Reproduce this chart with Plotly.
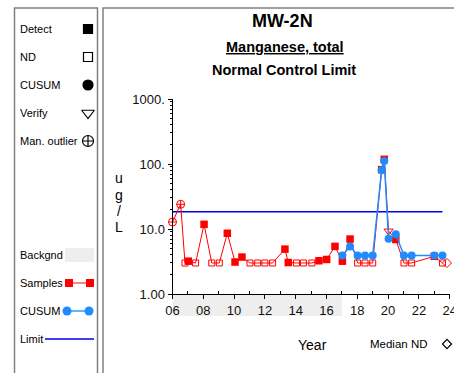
import plotly.graph_objects as go

W, H = 454, 373
FONT = "Liberation Sans, Arial, sans-serif"

# ---------------- data ----------------
sample_years = [2006.00, 2006.53, 2006.81, 2007.03, 2007.50, 2008.05, 2008.55, 2009.04,
                2009.56, 2010.06, 2010.51, 2011.03, 2011.53, 2012.00, 2012.50, 2013.30,
                2013.52, 2014.05, 2014.50, 2015.05, 2015.51, 2016.01, 2016.55, 2017.03,
                2017.53, 2018.02, 2018.50, 2019.00, 2019.58, 2019.75, 2020.03, 2020.50,
                2021.03, 2021.53, 2023.00, 2023.53]
sample_values = [12.8, 24.0, 3.0, 3.2, 3.0, 11.8, 3.0, 3.0,
                 8.6, 3.1, 3.7, 3.0, 3.0, 3.0, 3.0, 4.9,
                 3.05, 3.0, 3.0, 3.0, 3.25, 3.4, 5.4, 3.2,
                 7.0, 3.0, 3.0, 3.0, 82.0, 118.0, 9.3, 6.9,
                 3.0, 3.0, 3.8, 3.0]
# O = manual outlier, D = detect, N = non-detect, V = verify
sample_flags = ["O", "O", "N", "D", "N", "D", "N", "N",
                "D", "D", "D", "N", "N", "N", "N", "D",
                "D", "N", "N", "N", "D", "D", "D", "D",
                "D", "N", "N", "N", "D", "D", "V", "D",
                "N", "N", "D", "N"]

cusum_years = [2017.03, 2017.53, 2018.02, 2018.50, 2019.00, 2019.58, 2019.75, 2020.03,
               2020.50, 2021.03, 2021.53, 2023.00, 2023.53]
cusum_values = [3.9, 5.4, 3.9, 3.9, 3.9, 80.0, 111.0, 7.1,
                8.3, 3.9, 3.9, 3.9, 3.9]

limit_value = 18.5
limit_span = [2006.0, 2023.53]
median_nd_year = 2024.1
median_nd_value = 3.0
background_span = [2006.0, 2017.0]

x_range = [2006, 2024]
x_tickvals = [2006, 2008, 2010, 2012, 2014, 2016, 2018, 2020, 2022, 2024]
x_ticktext = ["06", "08", "10", "12", "14", "16", "18", "20", "22", "24"]
x_minor = [2007, 2009, 2011, 2013, 2015, 2017, 2019, 2021, 2023]
y_tickvals = [1, 10, 100, 1000]
y_ticktext = ["1.00", "10.0", "100.", "1000."]
y_minor = [m * d for d in (1, 10, 100) for m in range(2, 10)]

legend_symbols = ["Detect", "ND", "CUSUM", "Verify", "Man. outlier"]
legend_lines = ["Backgnd", "Samples", "CUSUM", "Limit"]

RED = "#ff0000"
BLUE = "#1e8cff"
LIMIT = "#0000ee"

XD0, XD1 = 172.5 / W, 449.7 / W
# overlay axis with the same scale, extended to the right page edge
x3_right = x_range[0] + (x_range[1] - x_range[0]) * (1 - XD0) / (XD1 - XD0)


def sel(flag):
    xs = [x for x, f in zip(sample_years, sample_flags) if f == flag]
    ys = [y for y, f in zip(sample_values, sample_flags) if f == flag]
    return xs, ys


fig = go.Figure()

# limit line
fig.add_trace(go.Scatter(x=limit_span, y=[limit_value, limit_value], mode="lines",
                         line=dict(color=LIMIT, width=1.5), hoverinfo="skip"))
# samples line
fig.add_trace(go.Scatter(x=sample_years, y=sample_values, mode="lines", cliponaxis=False,
                         line=dict(color=RED, width=1)))
xs, ys = sel("N")
fig.add_trace(go.Scatter(x=xs, y=ys, mode="markers", cliponaxis=False,
                         marker=dict(symbol="square-open", size=6, color=RED, line=dict(width=1))))
xs, ys = sel("D")
fig.add_trace(go.Scatter(x=xs, y=ys, mode="markers", cliponaxis=False,
                         marker=dict(symbol="square", size=7.5, color=RED, line=dict(width=0))))
xs, ys = sel("V")
fig.add_trace(go.Scatter(x=xs, y=ys, mode="markers", cliponaxis=False,
                         marker=dict(symbol="triangle-down-open", size=8, color=RED, line=dict(width=1))))
xs, ys = sel("O")
fig.add_trace(go.Scatter(x=xs, y=ys, mode="markers", cliponaxis=False,
                         marker=dict(symbol="circle-cross-open", size=8, color=RED, line=dict(width=1))))
# cusum
fig.add_trace(go.Scatter(x=cusum_years, y=cusum_values, mode="lines+markers", cliponaxis=False,
                         line=dict(color=BLUE, width=1.5),
                         marker=dict(symbol="circle", size=8, color=BLUE)))
# median ND (on extended overlay axis with identical scale)
fig.add_trace(go.Scatter(x=[median_nd_year], y=[median_nd_value], xaxis="x3", yaxis="y",
                         mode="markers", cliponaxis=False,
                         marker=dict(symbol="diamond-open", size=7, color=RED, line=dict(width=1))))

# ---------- legend panel on a hidden pixel axis ----------
lx = 88
sym_y = [29, 57, 85, 113, 141]
sym_specs = [("square", 9), ("square-open", 9), ("circle", 10),
             ("triangle-down-open", 11), ("circle-cross-open", 11)]
for (sym, sz), yy in zip(sym_specs, sym_y):
    fig.add_trace(go.Scatter(x=[lx], y=[yy], xaxis="x2", yaxis="y2", mode="markers",
                             marker=dict(symbol=sym, size=sz, color="black", line=dict(width=1.2, color="black"))))
fig.add_trace(go.Scatter(x=[69, 90], y=[283, 283], xaxis="x2", yaxis="y2", mode="lines+markers",
                         line=dict(color=RED, width=1), marker=dict(symbol="square", size=8, color=RED)))
fig.add_trace(go.Scatter(x=[67, 89], y=[311, 311], xaxis="x2", yaxis="y2", mode="lines+markers",
                         line=dict(color="#66b3ff", width=2), marker=dict(symbol="circle", size=9, color=BLUE)))
fig.add_trace(go.Scatter(x=[45, 94], y=[339, 339], xaxis="x2", yaxis="y2", mode="lines",
                         line=dict(color=LIMIT, width=1.3)))
fig.add_trace(go.Scatter(x=[447], y=[344], xaxis="x2", yaxis="y2", mode="markers",
                         marker=dict(symbol="diamond-open", size=7, color="black", line=dict(width=1.2))))

annotations = []
def txt(x, y, s, size, anchor="left"):
    annotations.append(dict(x=x / W, y=1 - y / H, xref="paper", yref="paper", text=s,
                            showarrow=False, xanchor=anchor, yanchor="middle",
                            font=dict(family=FONT, size=size, color="black")))

for s, yy in zip(legend_symbols, sym_y):
    txt(18, yy, s, 11)
for s, yy in zip(legend_lines, [255, 283, 311, 339]):
    txt(18, yy, s, 11)

txt(282, 21, "<b>MW-2N</b>", 18, anchor="center")
txt(285, 47, "<b><u>Manganese, total</u></b>", 14.5, anchor="center")
txt(283.5, 70, "<b>Normal Control Limit</b>", 14.5, anchor="center")
for ch, yy in zip(["u", "g", "/", "L"], [178, 195, 211, 227]):
    txt(119, yy, ch, 14, anchor="center")
txt(312, 345, "Year", 14, anchor="center")
txt(368, 344, "Median ND", 11.5)

shapes = [
    dict(type="rect", xref="paper", yref="paper", x0=14.5 / W, x1=97.5 / W, y0=-0.1, y1=1 - 8 / H,
         line=dict(color="#808080", width=1.5), layer="below"),
    dict(type="rect", xref="paper", yref="paper", x0=103 / W, x1=1.2, y0=-0.1, y1=1 - 8 / H,
         line=dict(color="#808080", width=1.5), layer="below"),
    dict(type="rect", xref="x", yref="paper", x0=background_span[0], x1=background_span[1],
         y0=1 - 316 / H, y1=1 - 295 / H, fillcolor="#eeeeee", line=dict(width=0), layer="below"),
    dict(type="rect", xref="paper", yref="paper", x0=65 / W, x1=94 / W, y0=1 - 262 / H, y1=1 - 248 / H,
         fillcolor="#eeeeee", line=dict(width=0), layer="below"),
]

fig.update_layout(
    width=W, height=H, margin=dict(l=0, r=0, t=0, b=0, pad=0, autoexpand=False),
    paper_bgcolor="white", plot_bgcolor="rgba(0,0,0,0)", showlegend=False,
    font=dict(family=FONT, color="black"),
    annotations=annotations, shapes=shapes,
    xaxis=dict(range=x_range, domain=[XD0, XD1], anchor="y", automargin=False,
               showgrid=False, zeroline=False, showline=True, linecolor="black", linewidth=1,
               tickmode="array", tickvals=x_tickvals, ticktext=x_ticktext,
               ticks="outside", ticklen=4, tickcolor="black", ticklabeloverflow="allow",
               tickfont=dict(family=FONT, size=13, color="#111"),
               minor=dict(tickmode="array", tickvals=x_minor, ticks="inside", ticklen=3, tickcolor="black")),
    yaxis=dict(type="log", range=[0, 3], domain=[1 - 294 / H, 1 - 99 / H], anchor="x", automargin=False,
               showgrid=False, zeroline=False, showline=True, linecolor="black", linewidth=1,
               tickmode="array", tickvals=y_tickvals, ticktext=y_ticktext,
               ticks="outside", ticklen=4, tickcolor="black", ticklabeloverflow="allow",
               tickfont=dict(family=FONT, size=13, color="#111"),
               minor=dict(tickmode="array", tickvals=y_minor, ticks="outside", ticklen=2, tickcolor="black")),
    xaxis2=dict(range=[0, W], domain=[0, 1], anchor="y2", visible=False, fixedrange=True, automargin=False),
    yaxis2=dict(range=[H, 0], domain=[0, 1], anchor="x2", visible=False, fixedrange=True, automargin=False),
    xaxis3=dict(range=[x_range[0], x3_right], domain=[XD0, 1], anchor="y", overlaying="x",
                visible=False, fixedrange=True, automargin=False),
)

fig.write_html("out.html", config={"displayModeBar": False},
               post_script="document.body.style.margin='0';document.body.style.overflow='hidden';")
